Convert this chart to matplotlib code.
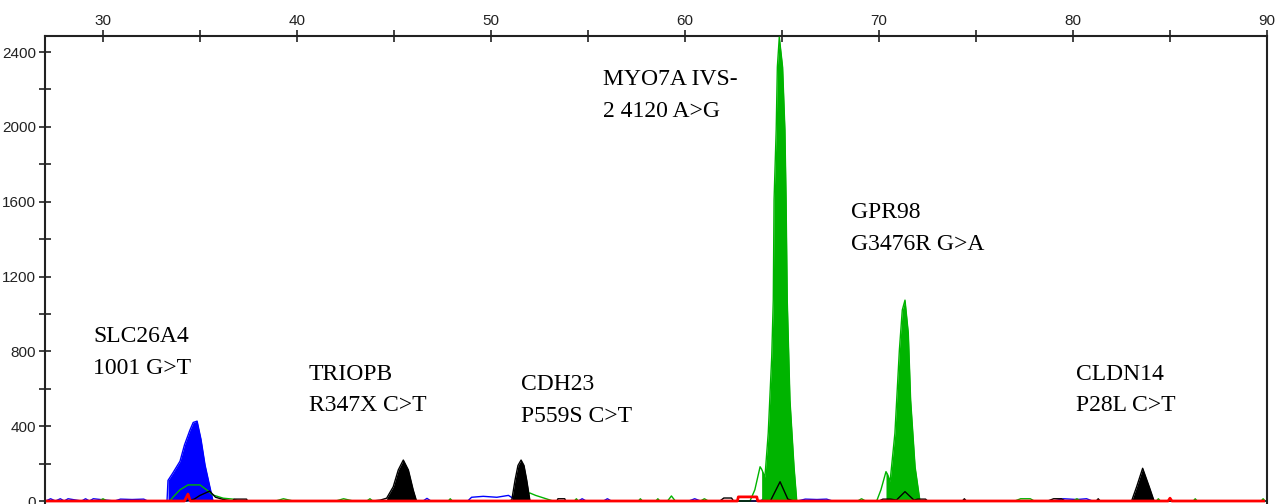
import matplotlib
matplotlib.use("Agg")
import numpy as np
import matplotlib.pyplot as plt
from matplotlib import font_manager

# fragment size (bp) and signal (RFU) for each dye channel
blue_trace = [(27.05, 0), (27.3, 12), (27.55, 0), (27.8, 12), (28.0, 0), (28.2, 12), (28.9, 0),
              (29.1, 12), (29.3, 0), (29.5, 12), (30.6, 0), (30.9, 10), (31.5, 8), (32.1, 10),
              (32.3, 0), (33.3, 0), (33.35, 110), (33.6, 150), (33.97, 213), (34.2, 300),
              (34.48, 379), (34.65, 420), (34.85, 427), (35.05, 330), (35.26, 192), (35.52, 70),
              (35.67, 0), (36.0, 0), (46.5, 0), (46.7, 14), (46.9, 0), (48.8, 0), (49.0, 20),
              (49.6, 25), (50.3, 20), (50.9, 30), (51.2, 10), (51.4, 0), (54.5, 0), (54.7, 12),
              (54.9, 0), (55.8, 0), (56.0, 12), (56.2, 0), (60.2, 0), (60.5, 12), (60.8, 0),
              (63.9, 0), (64.2, 25), (64.5, 0), (65.8, 0), (66.2, 10), (66.8, 8), (67.3, 10),
              (67.6, 0), (79.0, 0), (79.5, 12), (80.2, 8), (80.7, 12), (81.0, 0), (83.3, 0),
              (83.6, 12), (83.9, 0), (89.9, 0)]

green_trace = [(27.05, 0), (29.8, 0), (30.0, 12), (30.2, 0), (33.45, 0), (33.6, 20), (33.97, 60),
               (34.38, 86), (35.0, 86), (35.4, 55), (35.67, 32), (36.2, 15), (36.7, 10), (37.0, 0),
               (38.9, 0), (39.3, 12), (39.8, 0), (42.0, 0), (42.4, 12), (42.9, 0), (43.6, 0),
               (43.76, 12), (43.9, 0), (47.8, 0), (47.9, 12), (48.0, 0), (51.24, 0), (51.6, 20),
               (52.0, 43), (52.3, 30), (52.9, 10), (53.2, 0), (54.3, 0), (54.4, 12), (54.5, 0),
               (57.6, 0), (57.7, 12), (57.8, 0), (58.5, 0), (58.6, 12), (58.7, 0), (59.1, 0),
               (59.3, 27), (59.5, 0), (60.8, 0), (61.0, 12), (61.2, 0), (63.35, 0), (63.6, 60),
               (63.87, 183), (63.95, 170), (64.12, 128), (64.29, 363), (64.47, 771), (64.55, 1074),
               (64.59, 1609), (64.70, 1983), (64.76, 2320), (64.86, 2480), (65.03, 2320),
               (65.15, 1983), (65.21, 1609), (65.27, 1074), (65.41, 540), (65.62, 182), (65.76, 0),
               (66.5, 0), (68.9, 0), (69.1, 12), (69.3, 0), (69.88, 0), (70.1, 60), (70.36, 157),
               (70.45, 140), (70.57, 103), (70.82, 363), (71.05, 807), (71.20, 1021), (71.34, 1074),
               (71.51, 898), (71.63, 540), (71.86, 182), (72.11, 0), (77.0, 0), (77.3, 12),
               (77.8, 12), (78.0, 0), (80.0, 0), (80.2, 12), (80.4, 0), (84.3, 0), (84.4, 12),
               (84.5, 0), (86.2, 0), (86.3, 12), (86.4, 0), (89.7, 0), (89.8, 12), (89.9, 0)]

black_trace = [(27.05, 0), (34.3, 0), (34.7, 10), (35.0, 30), (35.5, 53), (35.8, 20), (36.2, 8),
               (36.7, 0), (36.75, 10), (37.4, 10), (37.45, 0), (43.9, 0), (44.3, 5), (44.62, 15),
               (44.96, 76), (45.22, 166), (45.48, 219), (45.74, 166), (45.99, 59), (46.16, 0),
               (50.9, 0), (51.07, 5), (51.24, 112), (51.39, 190), (51.55, 219), (51.70, 190),
               (51.84, 112), (52.01, 0), (53.4, 0), (53.45, 12), (53.8, 12), (53.85, 0), (61.8, 0),
               (62.0, 16), (62.4, 16), (62.5, 0), (64.4, 0), (64.9, 103), (65.3, 10), (65.6, 0),
               (70.0, 0), (70.2, 10), (70.6, 10), (70.9, 5), (71.34, 50), (71.8, 5), (72.0, 10),
               (72.4, 10), (72.5, 0), (74.3, 0), (74.4, 12), (74.5, 0), (78.7, 0), (79.0, 12),
               (79.4, 12), (79.6, 0), (81.2, 0), (81.3, 12), (81.4, 0), (83.02, 0), (83.28, 76),
               (83.59, 175), (83.93, 76), (84.18, 0), (89.9, 0)]

red_trace = [(27.05, 0), (34.2, 0), (34.38, 37), (34.5, 0), (62.7, 0), (62.75, 22), (63.7, 22),
             (63.75, 0), (84.9, 0), (85.0, 15), (85.1, 0), (89.9, 0)]

# called peaks (filled), as size ranges per dye
blue_peaks = [(33.35, 35.67)]
green_peaks = [(63.95, 65.76), (70.36, 72.11)]
black_peaks = [(44.62, 46.16), (51.07, 52.01), (83.02, 84.18)]

# SNP labels: text, left edge (bp), top (RFU)
snp_labels = ["SLC26A4\n1001 G>T", "TRIOPB\nR347X C>T", "CDH23\nP559S C>T",
              "MYO7A IVS-\n2 4120 A>G", "GPR98\nG3476R G>A", "CLDN14\nP28L C>T"]
label_x = [29.48, 40.62, 51.55, 55.77, 68.56, 80.15]
label_y = [935, 735, 680, 2310, 1598, 735]

BLUE = "#0000ff"
GREEN = "#00b400"
BLACK = "#000000"
RED = "#ff0000"

available = {f.name for f in font_manager.fontManager.ttflist}
tick_font = "Liberation Sans Narrow" if "Liberation Sans Narrow" in available else "Liberation Sans"

fig = plt.figure(figsize=(12.84, 5.04), dpi=100)
ax = fig.add_axes([45 / 1284, 0, 1222 / 1284, 468 / 504])


def draw_channel(trace, peaks, color, z):
    x, y = map(np.array, zip(*trace))
    for lo, hi in peaks:
        m = (x >= lo) & (x <= hi)
        ax.fill_between(x[m], 0, y[m], color=color, lw=0, zorder=z)
    ax.plot(x, y, color=color, lw=1.0, zorder=z + 0.5)


draw_channel(blue_trace, blue_peaks, BLUE, 2)
draw_channel(green_trace, green_peaks, GREEN, 3)
draw_channel(black_trace, black_peaks, BLACK, 4)
rx, ry = zip(*red_trace)
ax.plot(rx, ry, color=RED, lw=2.0, zorder=6, solid_capstyle="butt")

for txt, tx, ty in zip(snp_labels, label_x, label_y):
    ax.text(tx, ty, txt, family="Liberation Serif", fontsize=17, va="top", ha="left",
            linespacing=1.67, zorder=7)

ax.set_xlim(27.01, 90.0)
ax.set_ylim(-16, 2486)

ax.xaxis.tick_top()
ax.set_xticks(np.arange(30, 91, 10))
ax.set_xticks(np.arange(35, 90, 10), minor=True)
ax.set_yticks(np.arange(0, 2401, 400))
ax.set_yticks(np.arange(200, 2400, 400), minor=True)
ax.tick_params(axis="both", which="both", direction="inout", length=8, width=1.2, color="#222222")
ax.tick_params(axis="x", which="major", pad=2)
ax.tick_params(axis="y", which="major", pad=2.5)
for lab in ax.get_xticklabels() + ax.get_yticklabels():
    lab.set_family(tick_font)
    lab.set_fontsize(11)
    lab.set_color("#222222")

for side in ["left", "top", "right"]:
    ax.spines[side].set_linewidth(1.5)
    ax.spines[side].set_color("#222222")
ax.spines["bottom"].set_visible(False)

fig.savefig("out.png", dpi=100)
